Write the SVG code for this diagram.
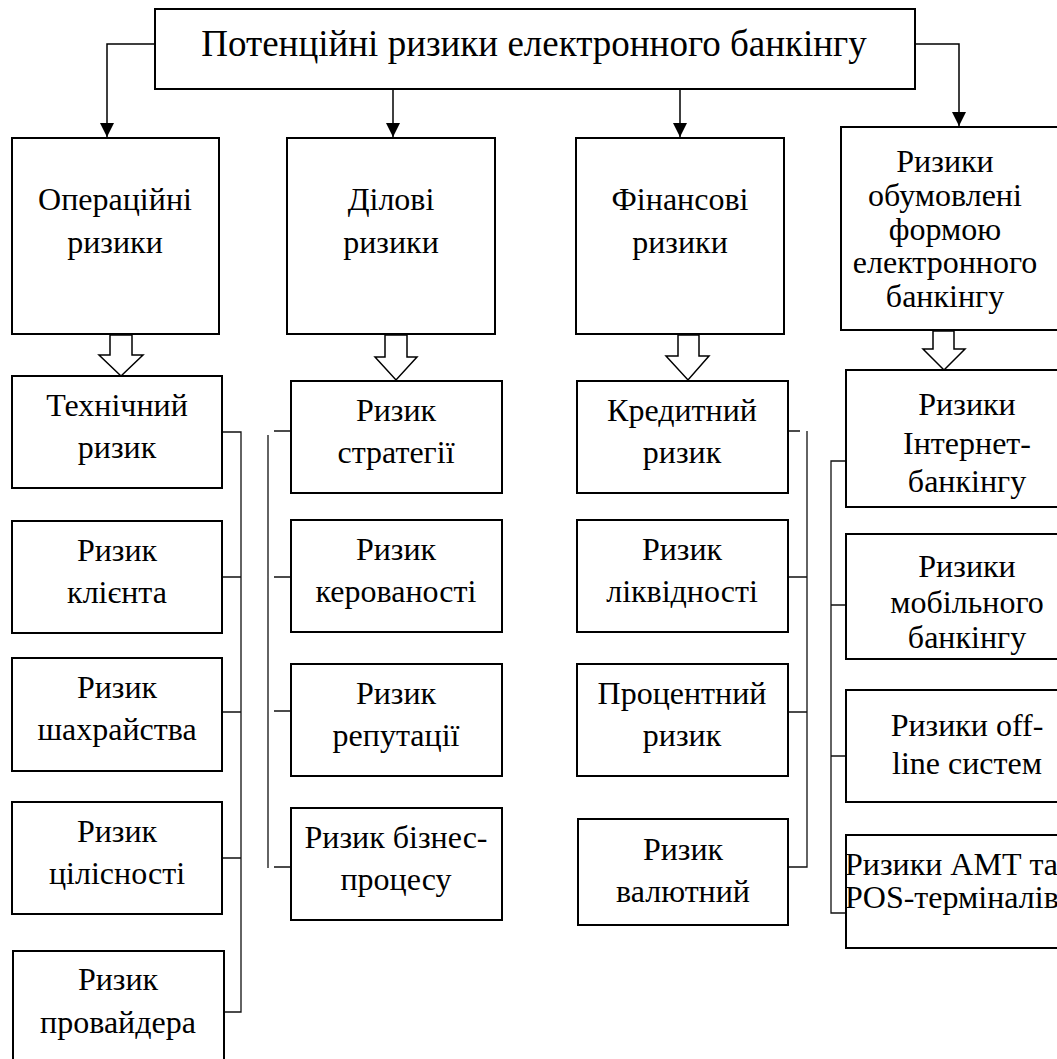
<svg xmlns="http://www.w3.org/2000/svg" width="1057" height="1059" viewBox="0 0 1057 1059">
<style>
.box{fill:#fff;stroke:#000;stroke-width:2}
text{font-family:'Liberation Serif','Tinos','Times New Roman','DejaVu Serif',serif;font-size:32px;fill:#000}
.t{text-anchor:middle}
.ts{text-anchor:start}
.title{font-size:37px}
.c{fill:none;stroke:#000;stroke-width:1.5}
.l{fill:none;stroke:#111;stroke-width:1.3}
.h{fill:#fff;stroke:#000;stroke-width:1.5;stroke-linejoin:miter}
</style>
<defs>
<marker id="ah" markerUnits="userSpaceOnUse" markerWidth="14" markerHeight="14" refX="14" refY="7" orient="auto">
<path d="M0,0 L14,7 L0,14 z" fill="#000"/>
</marker>
</defs>
<rect width="1057" height="1059" fill="#fff"/>
<g id="connectors">
<path class="c" d="M155,44 H107 V137" marker-end="url(#ah)"/>
<path class="c" d="M393,89 V137" marker-end="url(#ah)"/>
<path class="c" d="M680,89 V137" marker-end="url(#ah)"/>
<path class="c" d="M915,44 H959 V126" marker-end="url(#ah)"/>
<polygon class="h" points="110,335 110,355 99,355 121,376 143,355 132,355 132,335"/>
<polygon class="h" points="385,335 385,357 375,357 396,380 417,357 407,357 407,335"/>
<polygon class="h" points="678,335 678,356 666,356 688,380 709,356 699,356 699,335"/>
<polygon class="h" points="933,331 933,349 923,349 944,370 965,349 954,349 954,331"/>
<path class="l" d="M222,432 H241 V1012 H222 M222,577 H241 M222,712 H241 M222,858 H241"/>
<path class="l" d="M268,435 V868 M274,431 H291 M274,577 H291 M274,711 H291 M274,867 H291"/>
<path class="l" d="M782,431 H800 M807,431 V867 H788 M788,577 H807 M788,712 H807"/>
<path class="l" d="M846,461 H831 V913 H846 M831,605 H846 M831,756 H846"/>
</g>
<g font-family="Liberation Serif, Tinos, Times New Roman, DejaVu Serif, serif">
<g id="root">
<rect class="box" x="155" y="9" width="760" height="80"/>
<text class="t title" x="534" y="56">Потенційні ризики електронного банкінгу</text>
</g>
<g id="operational">
<rect class="box" x="12" y="138" width="207" height="196"/>
<text class="t" x="115" y="210">Операційні</text>
<text class="t" x="115" y="253">ризики</text>
</g>
<g id="business">
<rect class="box" x="287" y="138" width="208" height="196"/>
<text class="t" x="391" y="210">Ділові</text>
<text class="t" x="391" y="253">ризики</text>
</g>
<g id="financial">
<rect class="box" x="576" y="138" width="208" height="196"/>
<text class="t" x="680" y="210">Фінансові</text>
<text class="t" x="680" y="253">ризики</text>
</g>
<g id="eform">
<rect class="box" x="841" y="127" width="230" height="203"/>
<text class="t" x="945" y="172">Ризики</text>
<text class="t" x="945" y="206">обумовлені</text>
<text class="t" x="945" y="240">формою</text>
<text class="t" x="945" y="273">електронного</text>
<text class="t" x="945" y="307">банкінгу</text>
</g>
<g id="technical">
<rect class="box" x="12" y="376" width="210" height="112"/>
<text class="t" x="117" y="416">Технічний</text>
<text class="t" x="117" y="458">ризик</text>
</g>
<g id="client">
<rect class="box" x="12" y="521" width="210" height="112"/>
<text class="t" x="117" y="561">Ризик</text>
<text class="t" x="117" y="603">клієнта</text>
</g>
<g id="fraud">
<rect class="box" x="12" y="658" width="210" height="113"/>
<text class="t" x="117" y="698">Ризик</text>
<text class="t" x="117" y="740">шахрайства</text>
</g>
<g id="integrity">
<rect class="box" x="12" y="802" width="210" height="112"/>
<text class="t" x="117" y="842">Ризик</text>
<text class="t" x="117" y="884">цілісності</text>
</g>
<g id="provider">
<rect class="box" x="13" y="951" width="211" height="115"/>
<text class="t" x="118" y="990">Ризик</text>
<text class="t" x="118" y="1033">провайдера</text>
</g>
<g id="strategy">
<rect class="box" x="291" y="381" width="211" height="112"/>
<text class="t" x="396" y="421">Ризик</text>
<text class="t" x="396" y="463">стратегії</text>
</g>
<g id="manageability">
<rect class="box" x="291" y="520" width="211" height="112"/>
<text class="t" x="396" y="560">Ризик</text>
<text class="t" x="396" y="602">керованості</text>
</g>
<g id="reputation">
<rect class="box" x="291" y="664" width="211" height="112"/>
<text class="t" x="396" y="704">Ризик</text>
<text class="t" x="396" y="746">репутації</text>
</g>
<g id="bprocess">
<rect class="box" x="291" y="808" width="211" height="112"/>
<text class="t" x="396" y="848">Ризик бізнес-</text>
<text class="t" x="396" y="890">процесу</text>
</g>
<g id="credit">
<rect class="box" x="577" y="381" width="211" height="112"/>
<text class="t" x="682" y="421">Кредитний</text>
<text class="t" x="682" y="463">ризик</text>
</g>
<g id="liquidity">
<rect class="box" x="577" y="520" width="211" height="112"/>
<text class="t" x="682" y="560">Ризик</text>
<text class="t" x="682" y="602">ліквідності</text>
</g>
<g id="interest">
<rect class="box" x="577" y="664" width="211" height="112"/>
<text class="t" x="682" y="704">Процентний</text>
<text class="t" x="682" y="746">ризик</text>
</g>
<g id="currency">
<rect class="box" x="578" y="819" width="210" height="106"/>
<text class="t" x="683" y="860">Ризик</text>
<text class="t" x="683" y="902">валютний</text>
</g>
<g id="internet">
<rect class="box" x="846" y="370" width="240" height="137"/>
<text class="t" x="967" y="415">Ризики</text>
<text class="t" x="967" y="454">Інтернет-</text>
<text class="t" x="967" y="492">банкінгу</text>
</g>
<g id="mobile">
<rect class="box" x="846" y="534" width="240" height="125"/>
<text class="t" x="967" y="577">Ризики</text>
<text class="t" x="967" y="613">мобільного</text>
<text class="t" x="967" y="648">банкінгу</text>
</g>
<g id="offline">
<rect class="box" x="846" y="690" width="240" height="112"/>
<text class="t" x="967" y="736">Ризики off-</text>
<text class="t" x="967" y="774">line систем</text>
</g>
<g id="atm">
<rect class="box" x="846" y="835" width="240" height="113"/>
<text class="ts" x="845" y="875">Ризики АМТ та</text>
<text class="ts" x="845" y="908">POS-терміналів</text>
</g>
</g>
</svg>
